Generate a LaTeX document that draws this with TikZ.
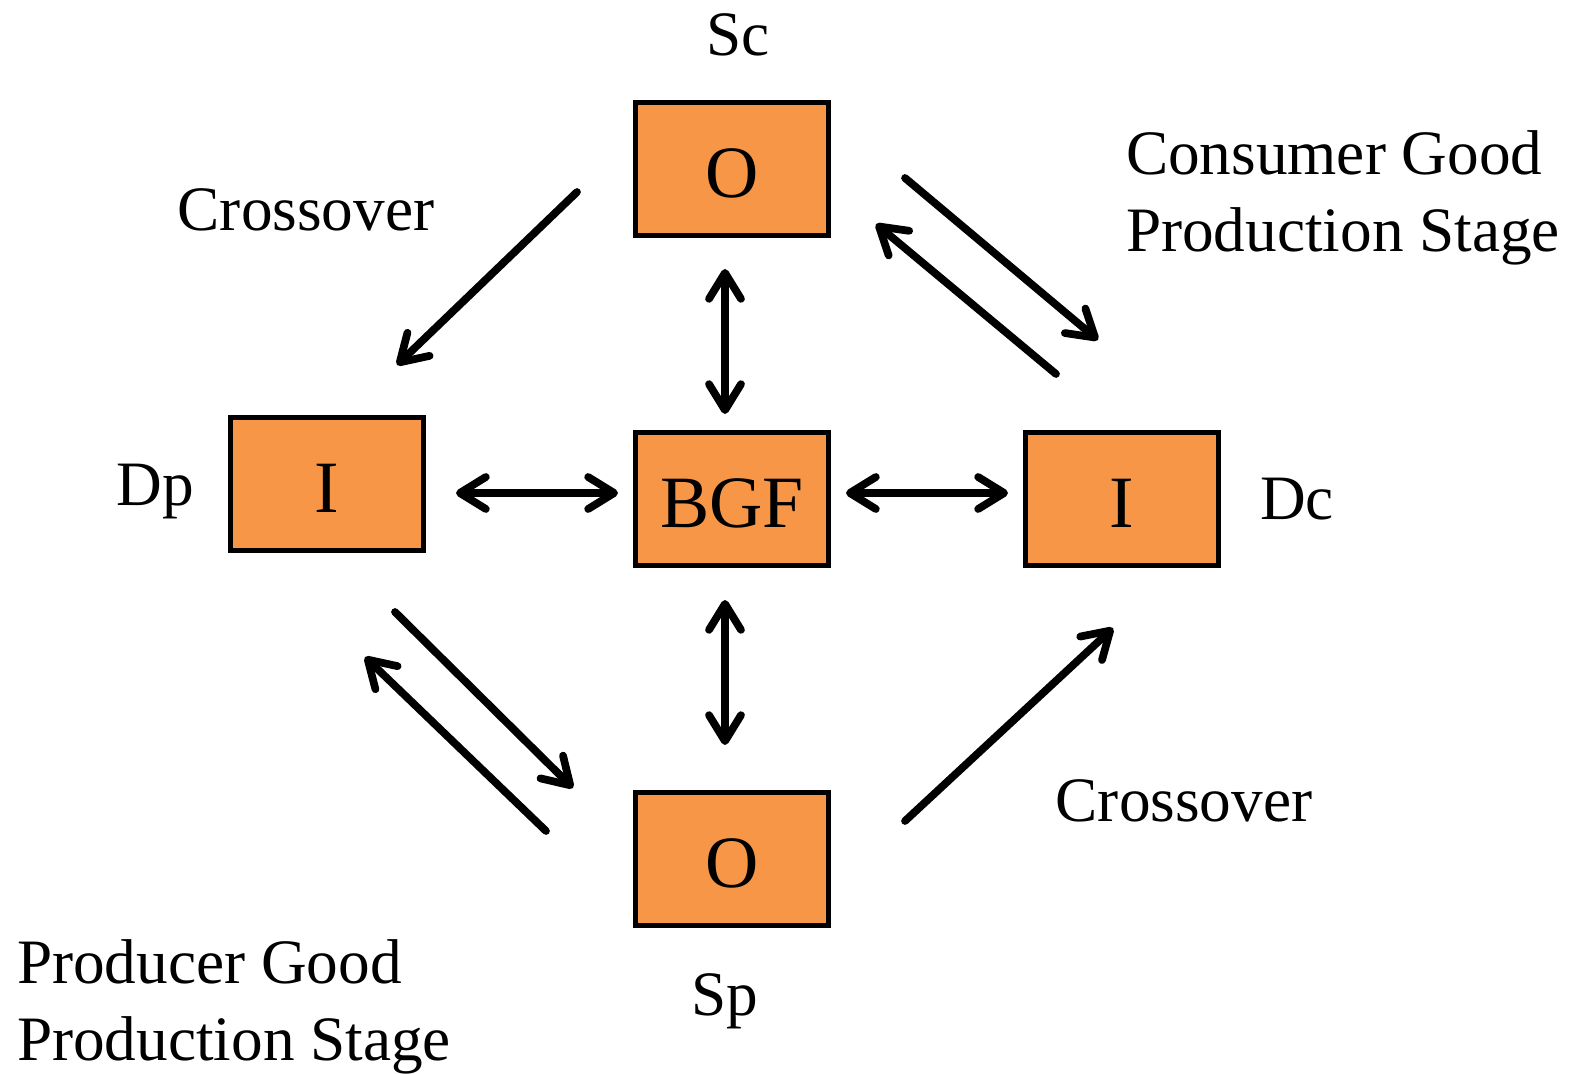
\documentclass[tikz,border=0pt]{standalone}
\usepackage{fontspec}
\setmainfont{Liberation Serif}
\usetikzlibrary{arrows.meta}
\definecolor{boxorange}{HTML}{F79646}

\begin{document}
\begin{tikzpicture}
		[
		x=0.02cm, y=-0.02cm, >={Straight Barb[length=5.2mm,width=6.4mm,round]},
		%Voreinstellungen
		box/.style={draw, line width=2.6pt, fill=boxorange, minimum width=3.85cm, minimum height=2.65cm, inner sep=0pt, text height=1.14cm, text depth=0cm, font=\fontsize{42}{46}\selectfont},
		lbl/.style={font=\fontsize{36}{43.8}\selectfont, inner sep=0pt},
		pfeil/.style={line width=4.4pt, line cap=round}
		]
		
		%Rahmen
		\useasboundingbox (0,0) rectangle (1583,1074);
		
		%Kaesten
		\node[box] (sc) at (732,169) {O};
		\node[box] (bgf) at (732,499) {BGF};
		\node[box] (dp) at (327,484) {I};
		\node[box] (dc) at (1122,499) {I};
		\node[box] (sp) at (732,859) {O};
		
		%Beschriftungen
		\node[lbl] (sclbl) at (738,35) {Sc};
		\node[lbl] (splbl) at (725,1001) {Sp};
		\node[lbl] (dplbl) at (155,492) {Dp};
		\node[lbl] (dclbl) at (1297,499) {Dc};
		\node[lbl] (cross1) at (306,210) {Crossover};
		\node[lbl] (cross2) at (1184,801) {Crossover};
		\node[lbl, align=left] (consumer) at (1343,198) {Consumer Good\\Production Stage};
		\node[lbl, align=left] (producer) at (234,1007) {Producer Good\\Production Stage};
		
		%Endpunkte der Pfeile
		\coordinate (c1a) at (577,192);  \coordinate (c1b) at (397,365);
		\coordinate (c2a) at (905,821);  \coordinate (c2b) at (1113,628);
		\coordinate (v1a) at (725,269);  \coordinate (v1b) at (725,414);
		\coordinate (v2a) at (725,600);  \coordinate (v2b) at (725,745);
		\coordinate (h1a) at (456,493);  \coordinate (h1b) at (618,493);
		\coordinate (h2a) at (846,493);  \coordinate (h2b) at (1008,493);
		\coordinate (k1a) at (905,178);  \coordinate (k1b) at (1098,340);
		\coordinate (k2a) at (1056,374); \coordinate (k2b) at (876,224);
		\coordinate (p1a) at (395,612);  \coordinate (p1b) at (573,788);
		\coordinate (p2a) at (546,831);  \coordinate (p2b) at (365,657);
		
		%Crossover
		\draw[pfeil, ->] (c1a) -- (c1b);
		\draw[pfeil, ->] (c2a) -- (c2b);
		
		%Doppelpfeile zu BGF
		\draw[pfeil, <->] (v1a) -- (v1b);
		\draw[pfeil, <->] (v2a) -- (v2b);
		\draw[pfeil, <->] (h1a) -- (h1b);
		\draw[pfeil, <->] (h2a) -- (h2b);
		
		%Konsumgueterstufe
		\draw[pfeil, ->] (k1a) -- (k1b);
		\draw[pfeil, ->] (k2a) -- (k2b);
		
		%Produktionsgueterstufe
		\draw[pfeil, ->] (p1a) -- (p1b);
		\draw[pfeil, ->] (p2a) -- (p2b);
	\end{tikzpicture}
\end{document}
